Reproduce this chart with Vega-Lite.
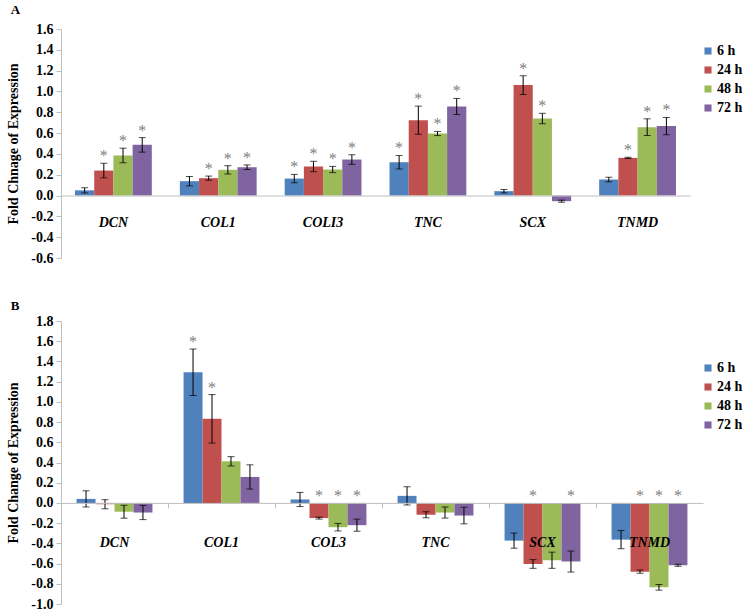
{
  "$schema": "https://vega.github.io/schema/vega-lite/v6.json",
  "background": "white",
  "padding": {"left": 6, "top": 4, "right": 0, "bottom": 0},
  "config": {
    "view": {"stroke": null},
    "font": "Liberation Serif",
    "axis": {
      "labelFont": "Liberation Serif",
      "labelFontWeight": "bold",
      "labelFontSize": 14,
      "labelColor": "black",
      "labelOverlap": false,
      "titleFont": "Liberation Serif",
      "titleFontWeight": "bold",
      "titleFontSize": 14,
      "titleColor": "black",
      "domainColor": "#BFBFBF",
      "tickColor": "#BFBFBF",
      "grid": false
    },
    "legend": {
      "labelFont": "Liberation Serif",
      "labelFontWeight": "bold",
      "labelFontSize": 14,
      "labelColor": "black",
      "symbolType": "square",
      "symbolSize": 50,
      "symbolStrokeWidth": 0,
      "rowPadding": 5,
      "labelOffset": 2
    }
  },
  "datasets": {
    "A": [
      {"gene": "DCN", "time": "6 h", "value": 0.05, "err": 0.025, "sig": false},
      {"gene": "DCN", "time": "24 h", "value": 0.24, "err": 0.07, "sig": true},
      {"gene": "DCN", "time": "48 h", "value": 0.385, "err": 0.07, "sig": true},
      {"gene": "DCN", "time": "72 h", "value": 0.487, "err": 0.07, "sig": true},
      {"gene": "COL1", "time": "6 h", "value": 0.138, "err": 0.045, "sig": false},
      {"gene": "COL1", "time": "24 h", "value": 0.167, "err": 0.02, "sig": true},
      {"gene": "COL1", "time": "48 h", "value": 0.247, "err": 0.04, "sig": true},
      {"gene": "COL1", "time": "72 h", "value": 0.272, "err": 0.022, "sig": true},
      {"gene": "COLI3", "time": "6 h", "value": 0.163, "err": 0.04, "sig": true},
      {"gene": "COLI3", "time": "24 h", "value": 0.279, "err": 0.05, "sig": true},
      {"gene": "COLI3", "time": "48 h", "value": 0.25, "err": 0.03, "sig": true},
      {"gene": "COLI3", "time": "72 h", "value": 0.346, "err": 0.046, "sig": true},
      {"gene": "TNC", "time": "6 h", "value": 0.32, "err": 0.065, "sig": true},
      {"gene": "TNC", "time": "24 h", "value": 0.724, "err": 0.135, "sig": true},
      {"gene": "TNC", "time": "48 h", "value": 0.596, "err": 0.02, "sig": true},
      {"gene": "TNC", "time": "72 h", "value": 0.856, "err": 0.077, "sig": true},
      {"gene": "SCX", "time": "6 h", "value": 0.042, "err": 0.016, "sig": false},
      {"gene": "SCX", "time": "24 h", "value": 1.061, "err": 0.09, "sig": true},
      {"gene": "SCX", "time": "48 h", "value": 0.74, "err": 0.05, "sig": true},
      {"gene": "SCX", "time": "72 h", "value": -0.054, "err": 0.01, "sig": false},
      {"gene": "TNMD", "time": "6 h", "value": 0.154, "err": 0.022, "sig": false},
      {"gene": "TNMD", "time": "24 h", "value": 0.362, "err": 0.006, "sig": true},
      {"gene": "TNMD", "time": "48 h", "value": 0.657, "err": 0.08, "sig": true},
      {"gene": "TNMD", "time": "72 h", "value": 0.667, "err": 0.083, "sig": true}
    ],
    "B": [
      {"gene": "DCN", "time": "6 h", "value": 0.04, "err": 0.08, "sig": false},
      {"gene": "DCN", "time": "24 h", "value": -0.013, "err": 0.045, "sig": false},
      {"gene": "DCN", "time": "48 h", "value": -0.087, "err": 0.064, "sig": false},
      {"gene": "DCN", "time": "72 h", "value": -0.095, "err": 0.07, "sig": false},
      {"gene": "COL1", "time": "6 h", "value": 1.293, "err": 0.23, "sig": true},
      {"gene": "COL1", "time": "24 h", "value": 0.832, "err": 0.24, "sig": true},
      {"gene": "COL1", "time": "48 h", "value": 0.412, "err": 0.046, "sig": false},
      {"gene": "COL1", "time": "72 h", "value": 0.257, "err": 0.12, "sig": false},
      {"gene": "COL3", "time": "6 h", "value": 0.034, "err": 0.07, "sig": false},
      {"gene": "COL3", "time": "24 h", "value": -0.15, "err": 0.01, "sig": true},
      {"gene": "COL3", "time": "48 h", "value": -0.24, "err": 0.037, "sig": true},
      {"gene": "COL3", "time": "72 h", "value": -0.22, "err": 0.06, "sig": true},
      {"gene": "TNC", "time": "6 h", "value": 0.07, "err": 0.09, "sig": false},
      {"gene": "TNC", "time": "24 h", "value": -0.117, "err": 0.03, "sig": false},
      {"gene": "TNC", "time": "48 h", "value": -0.095, "err": 0.055, "sig": false},
      {"gene": "TNC", "time": "72 h", "value": -0.125, "err": 0.082, "sig": false},
      {"gene": "SCX", "time": "6 h", "value": -0.373, "err": 0.075, "sig": false},
      {"gene": "SCX", "time": "24 h", "value": -0.604, "err": 0.043, "sig": true},
      {"gene": "SCX", "time": "48 h", "value": -0.567, "err": 0.08, "sig": false},
      {"gene": "SCX", "time": "72 h", "value": -0.58, "err": 0.104, "sig": true},
      {"gene": "TNMD", "time": "6 h", "value": -0.363, "err": 0.09, "sig": false},
      {"gene": "TNMD", "time": "24 h", "value": -0.68, "err": 0.016, "sig": true},
      {"gene": "TNMD", "time": "48 h", "value": -0.835, "err": 0.028, "sig": true},
      {"gene": "TNMD", "time": "72 h", "value": -0.617, "err": 0.01, "sig": true}
    ]
  },
  "spacing": 35,
  "resolve": {
    "scale": {"x": "independent", "y": "independent", "color": "independent", "xOffset": "independent"},
    "legend": {"color": "independent"}
  },
  "vconcat": [
    {
      "data": {"name": "A"},
      "width": 629,
      "height": 229,
      "title": {"text": "A", "anchor": "start", "frame": "bounds", "font": "Liberation Serif", "fontSize": 13, "fontWeight": "bold", "color": "black", "offset": 5, "dx": 4},
      "transform": [
        {"calculate": "datum.value - datum.err", "as": "lo"},
        {"calculate": "datum.value + datum.err", "as": "hi"},
        {"calculate": "max(datum.value + datum.err, 0)", "as": "starY"}
      ],
      "encoding": {
        "x": {
          "field": "gene", "type": "nominal", "sort": null,
          "scale": {"paddingInner": 0, "paddingOuter": 0},
          "axis": {"title": null, "orient": "bottom", "offset": -62.45, "ticks": false, "labelPadding": 20, "labelFontStyle": "italic", "labelAngle": 0, "labelOverlap": false, "zindex": 1}
        },
        "xOffset": {"field": "time", "type": "nominal", "sort": null, "scale": {"paddingInner": 0, "paddingOuter": 0.73}}
      },
      "layer": [
        {
          "mark": {"type": "bar"},
          "encoding": {
            "y": {
              "field": "value", "type": "quantitative",
              "scale": {"domain": [-0.6, 1.6], "nice": false, "zero": false},
              "axis": {"title": "Fold Chnage of Expression", "tickCount": 11, "format": ".1f", "labelExpr": "replace(datum.label, '\u2212', '-')", "labelFont": "Liberation Serif", "labelFontSize": 14, "labelFontWeight": "bold", "labelColor": "black", "labelOverlap": false, "labelBound": false, "labelFlush": false, "tickSize": 5, "labelPadding": 3, "titlePadding": 10}
            },
            "y2": {"datum": 0},
            "color": {
              "field": "time", "type": "nominal", "sort": null,
              "scale": {"domain": ["6 h", "24 h", "48 h", "72 h"], "range": ["#4F81BD", "#C0504D", "#9BBB59", "#8064A2"]},
              "legend": {"title": null, "orient": "none", "legendX": 640, "legendY": 15}
            }
          }
        },
        {
          "mark": {"type": "rule", "color": "black", "strokeWidth": 1},
          "encoding": {"y": {"field": "lo", "type": "quantitative", "title": "Fold Chnage of Expression"}, "y2": {"field": "hi"}}
        },
        {
          "mark": {"type": "tick", "color": "black", "size": 7, "thickness": 1},
          "encoding": {"y": {"field": "lo", "type": "quantitative", "title": "Fold Chnage of Expression"}}
        },
        {
          "mark": {"type": "tick", "color": "black", "size": 7, "thickness": 1},
          "encoding": {"y": {"field": "hi", "type": "quantitative", "title": "Fold Chnage of Expression"}}
        },
        {
          "transform": [{"filter": "datum.sig"}],
          "mark": {"type": "text", "text": "*", "font": "Liberation Serif", "fontSize": 16, "color": "#808080", "baseline": "alphabetic", "dy": -2},
          "encoding": {"y": {"field": "starY", "type": "quantitative", "title": "Fold Chnage of Expression"}}
        }
      ]
    },
    {
      "data": {"name": "B"},
      "width": 642,
      "height": 283,
      "title": {"text": "B", "anchor": "start", "frame": "bounds", "font": "Liberation Serif", "fontSize": 13, "fontWeight": "bold", "color": "black", "offset": 1, "dx": 4},
      "transform": [
        {"calculate": "datum.value - datum.err", "as": "lo"},
        {"calculate": "datum.value + datum.err", "as": "hi"},
        {"calculate": "max(datum.value + datum.err, 0)", "as": "starY"}
      ],
      "encoding": {
        "x": {
          "field": "gene", "type": "nominal", "sort": null,
          "scale": {"paddingInner": 0, "paddingOuter": 0},
          "axis": {"title": null, "orient": "bottom", "offset": -101.07, "ticks": true, "bandPosition": 0, "tickSize": 5, "labelPadding": 28, "labelFontStyle": "italic", "labelAngle": 0, "labelOverlap": false, "zindex": 1}
        },
        "xOffset": {"field": "time", "type": "nominal", "sort": null, "scale": {"paddingInner": 0, "paddingOuter": 0.82}}
      },
      "layer": [
        {
          "mark": {"type": "bar"},
          "encoding": {
            "y": {
              "field": "value", "type": "quantitative",
              "scale": {"domain": [-1.0, 1.8], "nice": false, "zero": false},
              "axis": {"title": "Fold Change of Expression", "tickCount": 14, "format": ".1f", "labelExpr": "replace(datum.label, '\u2212', '-')", "labelFont": "Liberation Serif", "labelFontSize": 14, "labelFontWeight": "bold", "labelColor": "black", "labelOverlap": false, "labelBound": false, "labelFlush": false, "tickSize": 5, "labelPadding": 3, "titlePadding": 10}
            },
            "y2": {"datum": 0},
            "color": {
              "field": "time", "type": "nominal", "sort": null,
              "scale": {"domain": ["6 h", "24 h", "48 h", "72 h"], "range": ["#4F81BD", "#C0504D", "#9BBB59", "#8064A2"]},
              "legend": {"title": null, "orient": "none", "legendX": 640, "legendY": 40}
            }
          }
        },
        {
          "mark": {"type": "rule", "color": "black", "strokeWidth": 1},
          "encoding": {"y": {"field": "lo", "type": "quantitative", "title": "Fold Change of Expression"}, "y2": {"field": "hi"}}
        },
        {
          "mark": {"type": "tick", "color": "black", "size": 7, "thickness": 1},
          "encoding": {"y": {"field": "lo", "type": "quantitative", "title": "Fold Change of Expression"}}
        },
        {
          "mark": {"type": "tick", "color": "black", "size": 7, "thickness": 1},
          "encoding": {"y": {"field": "hi", "type": "quantitative", "title": "Fold Change of Expression"}}
        },
        {
          "transform": [{"filter": "datum.sig"}],
          "mark": {"type": "text", "text": "*", "font": "Liberation Serif", "fontSize": 16, "color": "#808080", "baseline": "alphabetic", "dy": -2},
          "encoding": {"y": {"field": "starY", "type": "quantitative", "title": "Fold Change of Expression"}}
        }
      ]
    }
  ]
}
